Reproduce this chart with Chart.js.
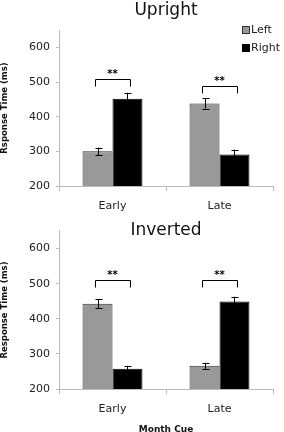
<!DOCTYPE html>
<html>
<head>
<meta charset="utf-8">
<script src="https://cdn.jsdelivr.net/npm/chart.js@4"></script>
<style>
  body { margin: 0; background: #fff; }
  canvas { display: block; }
</style>
</head>
<body>
<canvas id="upright" width="284" height="216"></canvas>
<canvas id="inverted" width="284" height="216"></canvas>
<script>
const categories = ['Early', 'Late'];
const seriesNames = ['Left', 'Right'];
const yTicks = [200, 300, 400, 500, 600];

const uprightLeft = [300, 438];
const uprightRight = [452, 291];
const uprightLeftErr = [11, 15];
const uprightRightErr = [17, 14];
const uprightBracketTop = [508, 488];
const uprightBracketFoot = [487, 467];

const invertedLeft = [443, 266];
const invertedRight = [258, 449];
const invertedLeftErr = [12, 9];
const invertedRightErr = [8, 14];
const invertedBracketTop = [510, 510];
const invertedBracketFoot = [489, 489];

const FONT = 'DejaVu Sans, Verdana, sans-serif';
const GRAY = '#999999';
const AXIS = '#bbbbbb';

// error bars + significance brackets + legend
const extras = {
  id: 'extras',
  afterDatasetsDraw(chart, args, opts) {
    const ctx = chart.ctx;
    const y = chart.scales.y;
    ctx.save();
    ctx.strokeStyle = '#000';
    ctx.lineWidth = 1;
    opts.errors.forEach((errs, d) => {
      const meta = chart.getDatasetMeta(d);
      meta.data.forEach((bar, i) => {
        const v = chart.data.datasets[d].data[i];
        const x = Math.round(bar.x) + 0.5;
        const top = y.getPixelForValue(v + errs[i]);
        const bot = y.getPixelForValue(v - errs[i]);
        ctx.beginPath();
        ctx.moveTo(x, top); ctx.lineTo(x, bot);
        ctx.moveTo(x - 3, Math.round(top) + 0.5); ctx.lineTo(x + 4, Math.round(top) + 0.5);
        ctx.moveTo(x - 3, Math.round(bot) + 0.5); ctx.lineTo(x + 4, Math.round(bot) + 0.5);
        ctx.stroke();
      });
    });

    const m0 = chart.getDatasetMeta(0), m1 = chart.getDatasetMeta(1);
    ctx.font = 'bold 10px ' + FONT;
    ctx.fillStyle = '#000';
    ctx.textAlign = 'center';
    ctx.textBaseline = 'middle';
    opts.bracketTop.forEach((t, i) => {
      const c = (m0.data[i].x + m1.data[i].x) / 2;
      const half = (m1.data[i].x - m0.data[i].x) * 0.6;
      const x0 = Math.round(c - half) + 0.5, x1 = Math.round(c + half) + 0.5;
      const yt = Math.round(y.getPixelForValue(t)) + 0.5;
      const yf = y.getPixelForValue(opts.bracketFoot[i]);
      ctx.beginPath();
      ctx.moveTo(x0, yf); ctx.lineTo(x0, yt); ctx.lineTo(x1, yt); ctx.lineTo(x1, yf);
      ctx.stroke();
      ctx.fillText('**', c, yt - 5);
    });

    if (opts.legend) {
      ctx.font = '11px ' + FONT;
      ctx.textAlign = 'left';
      chart.data.datasets.forEach((ds, d) => {
        const ly = 26 + d * 18;
        ctx.fillStyle = ds.backgroundColor;
        ctx.fillRect(242, ly, 8, 8);
        ctx.strokeStyle = ds.borderColor;
        ctx.strokeRect(242.5, ly + 0.5, 7, 7);
        ctx.fillStyle = '#222';
        ctx.fillText(ds.label, 251, ly + 4.5);
      });
    }
    ctx.restore();
  }
};

function makeChart(id, title, titlePad, left, right, opts) {
  return new Chart(document.getElementById(id), {
    type: 'bar',
    data: {
      labels: categories,
      datasets: [
        { label: seriesNames[0], data: left, backgroundColor: GRAY, borderColor: '#333', borderWidth: 1 },
        { label: seriesNames[1], data: right, backgroundColor: '#000', borderColor: '#000', borderWidth: 1 }
      ]
    },
    options: {
      responsive: false,
      animation: false,
      layout: { padding: { left: 0, right: 11, top: 0, bottom: 0 } },
      datasets: { bar: { categoryPercentage: 0.56, barPercentage: 1 } },
      plugins: {
        legend: { display: false },
        tooltip: { enabled: false },
        title: {
          display: true, text: title, color: '#111', fullSize: false,
          font: { family: FONT, size: 17, weight: 'normal' },
          padding: titlePad
        },
        extras: opts
      },
      scales: {
        x: {
          grid: { display: true, drawOnChartArea: false, offset: true, tickLength: 5, color: AXIS },
          border: { color: AXIS },
          ticks: { color: '#222', font: { family: FONT, size: 11 }, padding: 9 },
          title: {
            display: !!opts.xTitle, text: opts.xTitle || '', color: '#111',
            font: { family: FONT, size: 9, weight: 'bold' }, padding: { top: 0, bottom: -3 }
          },
          afterFit(s) { s.height = opts.xHeight; }
        },
        y: {
          min: 200, max: 650,
          grid: { display: true, drawOnChartArea: false, tickLength: 3, color: AXIS },
          border: { color: AXIS },
          ticks: { stepSize: 100, color: '#222', font: { family: FONT, size: 11 }, padding: 6 },
          afterBuildTicks(s) { s.ticks = s.ticks.filter(t => yTicks.includes(t.value)); },
          title: {
            display: true, text: opts.yTitle, color: '#111',
            font: { family: FONT, size: 8.5, weight: 'bold' }, padding: 0
          },
          afterFit(s) { s.width = 59; }
        }
      }
    },
    plugins: [extras]
  });
}

makeChart('upright', 'Upright', { top: 0, bottom: 9.6 }, uprightLeft, uprightRight, {
  errors: [uprightLeftErr, uprightRightErr],
  bracketTop: uprightBracketTop, bracketFoot: uprightBracketFoot,
  legend: true, yTitle: 'Rsponse Time (ms)', xHeight: 30
});

makeChart('inverted', 'Inverted', { top: 4, bottom: -9.4 }, invertedLeft, invertedRight, {
  errors: [invertedLeftErr, invertedRightErr],
  bracketTop: invertedBracketTop, bracketFoot: invertedBracketFoot,
  legend: false, yTitle: 'Response Time (ms)', xTitle: 'Month Cue', xHeight: 43
});
</script>
</body>
</html>
